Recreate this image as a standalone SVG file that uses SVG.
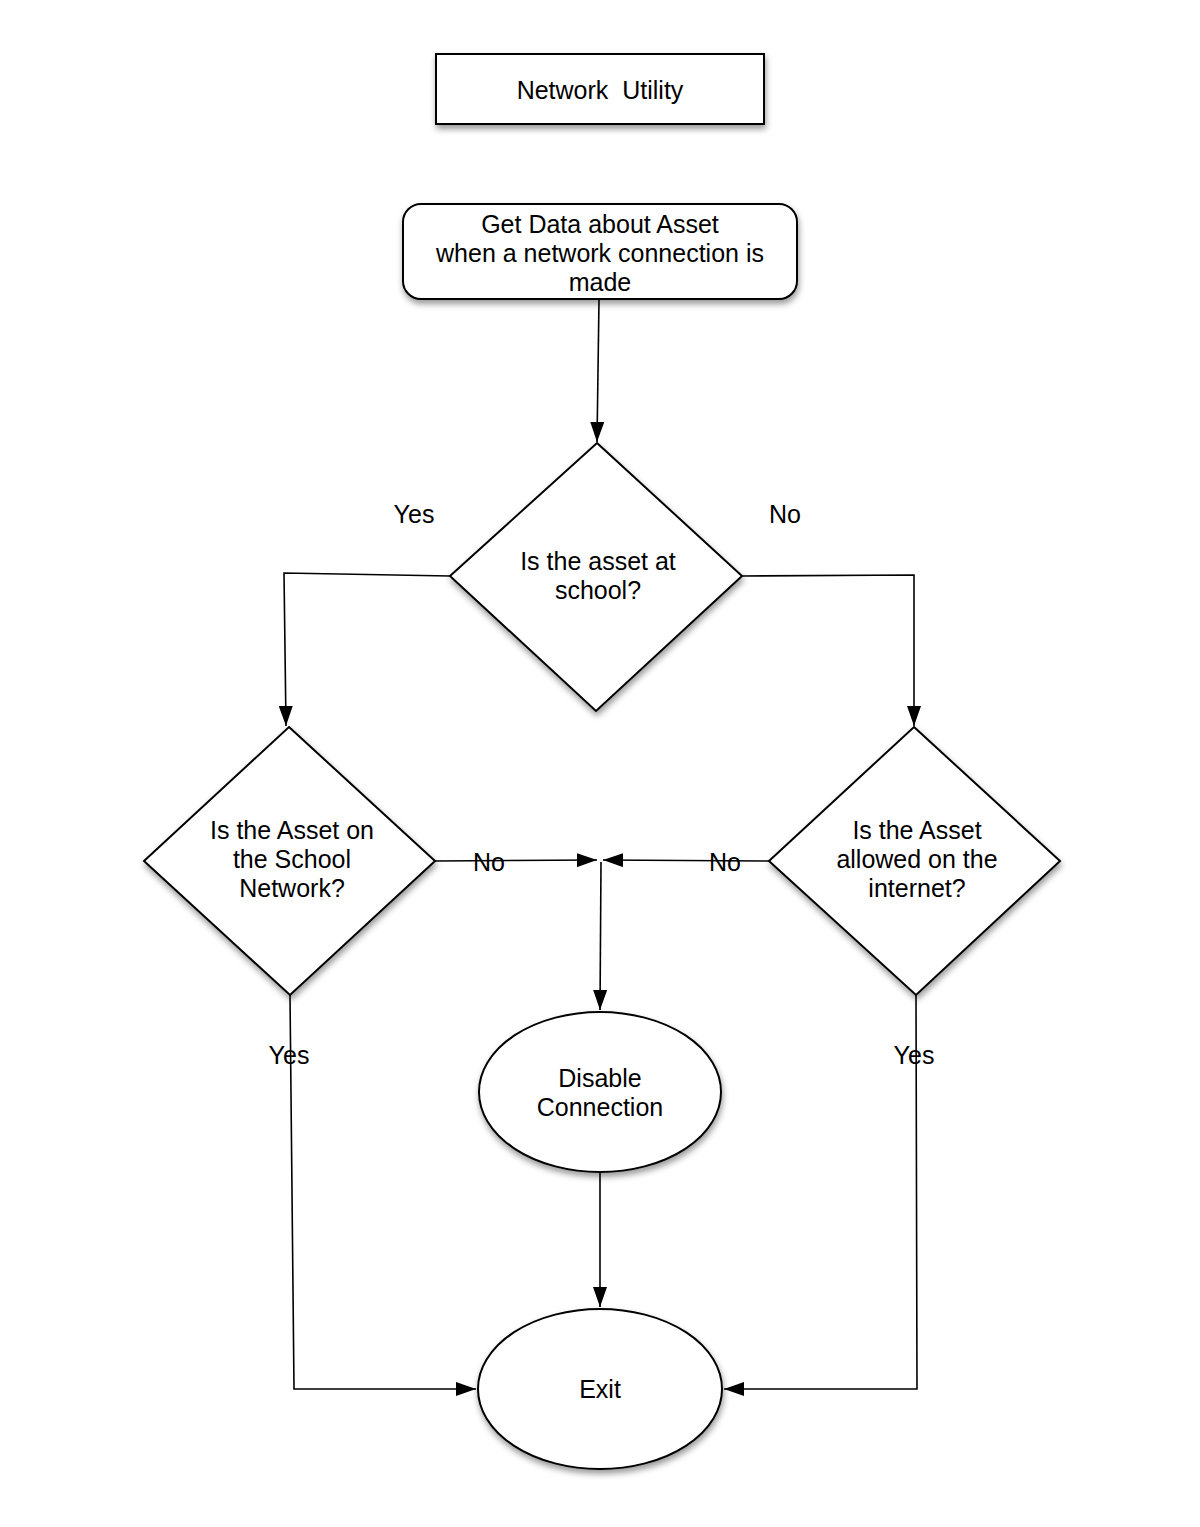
<svg xmlns="http://www.w3.org/2000/svg" width="1200" height="1527" viewBox="0 0 1200 1527">
<style>
.shape{fill:#fff;stroke:#000;stroke-width:2;filter:url(#sh)}
.t{font-family:"Liberation Sans",Arial,sans-serif;font-size:25px;fill:#000;text-anchor:middle;dominant-baseline:central;white-space:pre}
.c{fill:none;stroke:#000;stroke-width:1.6;marker-end:url(#ah)}
</style>
<defs>
<filter id="sh" x="-20%" y="-20%" width="140%" height="150%">
<feDropShadow dx="1" dy="4" stdDeviation="3" flood-color="#000" flood-opacity="0.4"/>
</filter>
<marker id="ah" viewBox="0 0 20 14" refX="20" refY="7" markerWidth="20" markerHeight="14" markerUnits="userSpaceOnUse" orient="auto">
<path d="M0,0 L20,7 L0,14 Z" fill="#000"/>
</marker>
</defs>
<rect width="1200" height="1527" fill="#fff"/>
<g id="connectors">
<path class="c" d="M599,300 L597,442"/>
<path class="c" d="M450,576 L284,573 L286,726"/>
<path class="c" d="M742,576 L914,575 L914,726"/>
<path class="c" d="M435,861 L597,860"/>
<path class="c" d="M769,861 L603,860"/>
<path class="c" d="M601,862 L600,1010"/>
<path class="c" d="M600,1172 L600,1307"/>
<path class="c" d="M290,995 L294,1389 L476,1389"/>
<path class="c" d="M916,995 L917,1389 L724,1389"/>
</g>
<g id="labels">
<text class="t" x="414" y="514">Yes</text>
<text class="t" x="785" y="514">No</text>
<text class="t" x="489" y="862">No</text>
<text class="t" x="725" y="862">No</text>
<text class="t" x="289" y="1055">Yes</text>
<text class="t" x="914" y="1055">Yes</text>
</g>
<g id="title">
<rect class="shape" x="436" y="54" width="328" height="70"/>
<text class="t" x="600" y="90">Network  Utility</text>
</g>
<g id="getdata">
<rect class="shape" x="403" y="204" width="394" height="95" rx="18"/>
<text class="t" x="600" y="224">Get Data about Asset</text>
<text class="t" x="600" y="253">when a network connection is</text>
<text class="t" x="600" y="282">made</text>
</g>
<g id="atschool">
<polygon class="shape" points="597,443 742,576 596,711 450,576"/>
<text class="t" x="598" y="561">Is the asset at</text>
<text class="t" x="598" y="590">school?</text>
</g>
<g id="onnetwork">
<polygon class="shape" points="289,727 435,861 290,995 144,861"/>
<text class="t" x="292" y="830">Is the Asset on</text>
<text class="t" x="292" y="859">the School</text>
<text class="t" x="292" y="888">Network?</text>
</g>
<g id="internet">
<polygon class="shape" points="914,727 1060,861 916,995 769,861"/>
<text class="t" x="917" y="830">Is the Asset</text>
<text class="t" x="917" y="859">allowed on the</text>
<text class="t" x="917" y="888">internet?</text>
</g>
<g id="disable">
<ellipse class="shape" cx="600" cy="1092" rx="121" ry="80"/>
<text class="t" x="600" y="1078">Disable</text>
<text class="t" x="600" y="1107">Connection</text>
</g>
<g id="exit">
<ellipse class="shape" cx="600" cy="1389" rx="122" ry="80"/>
<text class="t" x="600" y="1389">Exit</text>
</g>
</svg>
